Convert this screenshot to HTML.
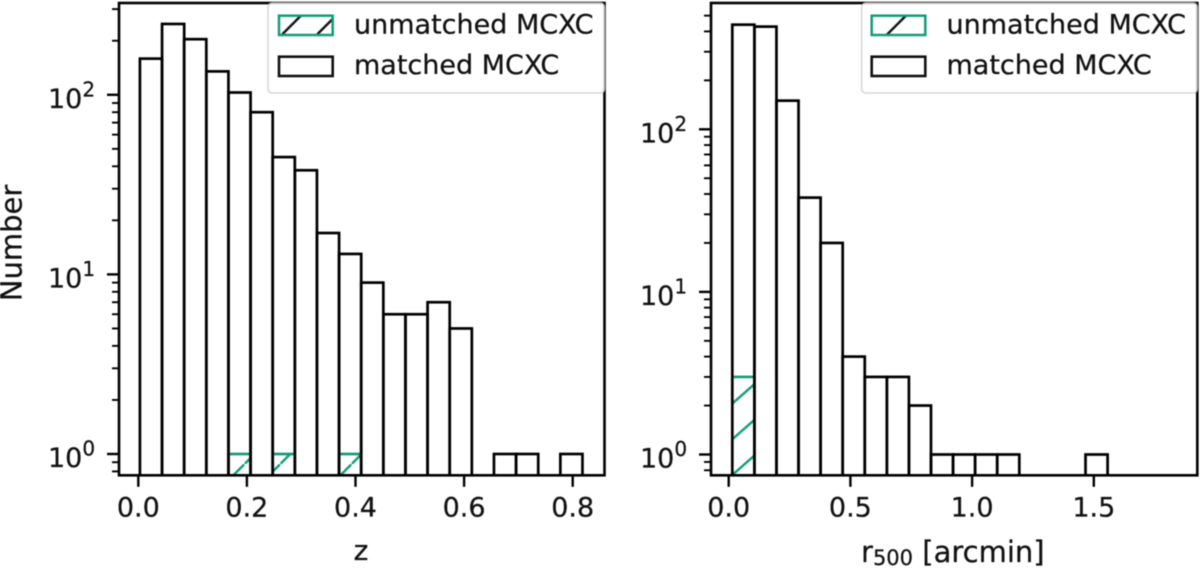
<!DOCTYPE html>
<html>
<head>
<meta charset="utf-8">
<title>MCXC histograms</title>
<style>
html,body{margin:0;padding:0;background:#fff;}
svg{display:block;filter:blur(0.65px);}
text{font-family:"DejaVu Sans","Liberation Sans",sans-serif;fill:#111;stroke:#111;stroke-width:0.25px;}
</style>
</head>
<body>
<svg id="fig" xmlns="http://www.w3.org/2000/svg" width="1200" height="571" viewBox="0 0 1200 571">
  <defs>
    <pattern id="hatch-left" patternUnits="userSpaceOnUse" width="35.7" height="35.7" patternTransform="translate(30.3 0)">
      <line x1="-4" y1="39.7" x2="39.7" y2="-4" stroke="#0f9d78" stroke-width="2.4"/>
    </pattern>
    <pattern id="hatch-right" patternUnits="userSpaceOnUse" width="40.57" height="35.7" patternTransform="translate(0 12.7)">
      <line x1="-4.54" y1="39.7" x2="45.11" y2="-4" stroke="#0f9d78" stroke-width="2.4"/>
    </pattern>
    <pattern id="legend-hatch-left" patternUnits="userSpaceOnUse" width="35" height="35" patternTransform="translate(1.6 0)">
      <line x1="-4" y1="39" x2="39" y2="-4" stroke="#111" stroke-width="2.4"/>
    </pattern>
    <pattern id="legend-hatch-right" patternUnits="userSpaceOnUse" width="70" height="70" patternTransform="translate(11.6 0)">
      <line x1="-4" y1="74" x2="74" y2="-4" stroke="#111" stroke-width="2.4"/>
    </pattern>
    <clipPath id="clip-left"><rect x="119" y="3" width="485.5" height="472.3"/></clipPath>
    <clipPath id="clip-right"><rect x="711" y="3" width="486.3" height="472.3"/></clipPath>
  </defs>
  <g id="panel-left"></g>
  <g id="panel-right"></g>

  <g>
    <rect x="268" y="3" width="336.5" height="90" rx="4" fill="#fff" fill-opacity="0.8" stroke="#ccc" stroke-opacity="0.8" stroke-width="1.5"/>
    <rect x="279" y="15.7" width="53.7" height="19.3" fill="url(#legend-hatch-left)" stroke="#0f9d78" stroke-width="2.5"/>
    <text x="354" y="33.5" font-size="27">unmatched MCXC</text>
    <rect x="279" y="56.7" width="53.7" height="19.3" fill="none" stroke="#111" stroke-width="2.6"/>
    <text x="354" y="74" font-size="27">matched MCXC</text>
  </g>
  <g>
    <rect x="861.7" y="3" width="335.6" height="90" rx="4" fill="#fff" fill-opacity="0.8" stroke="#ccc" stroke-opacity="0.8" stroke-width="1.5"/>
    <rect x="871.7" y="15.7" width="53.6" height="19.3" fill="url(#legend-hatch-right)" stroke="#0f9d78" stroke-width="2.5"/>
    <text x="946.5" y="33.5" font-size="27">unmatched MCXC</text>
    <rect x="871.7" y="56.7" width="53.6" height="19.3" fill="none" stroke="#111" stroke-width="2.6"/>
    <text x="946.5" y="74" font-size="27">matched MCXC</text>
  </g>

  <text transform="translate(21.5 243) rotate(-90)" text-anchor="middle" font-size="29">Number</text>
  <text x="361" y="560" text-anchor="middle" font-size="28">z</text>
  <text x="861" y="562" font-size="29">r<tspan font-size="21" dy="3">500</tspan><tspan dy="-3"> [arcmin]</tspan></text>
</svg>

<script>
// Redshift histogram
const zBinStart = 0.003;
const zBinWidth = 0.04075;
const zMatched = [159, 248, 204, 135, 103, 80, 45, 38, 17, 13, 9, 6, 6, 7, 5, 0, 1, 1, 0, 1, 0];
const zUnmatched = [0, 0, 0, 0, 1, 0, 1, 0, 0, 1, 0, 0, 0, 0, 0, 0, 0, 0, 0, 0, 0];
const zTicks = ["0.0", "0.2", "0.4", "0.6", "0.8"];

// r500 histogram
const rBinStart = 0.0148;
const rBinWidth = 0.0907;
const rMatched = [440, 428, 150, 38, 20, 4, 3, 3, 2, 1, 1, 1, 1, 0, 0, 0, 1, 0, 0, 0, 0];
const rUnmatched = [3, 0, 0, 0, 0, 0, 0, 0, 0, 0, 0, 0, 0, 0, 0, 0, 0, 0, 0, 0, 0];
const rTicks = ["0.0", "0.5", "1.0", "1.5"];

// Shared log axis
const decadeExponents = [0, 1, 2];
const minorValues = [0.8, 0.9, 2, 3, 4, 5, 6, 7, 8, 9, 20, 30, 40, 50, 60, 70, 80, 90, 200, 300, 400, 500, 600];

const NS = 'http://www.w3.org/2000/svg';
function mk(parent, tag, attrs, text) {
  const el = document.createElementNS(NS, tag);
  for (const k in attrs) el.setAttribute(k, attrs[k]);
  if (text !== undefined) el.textContent = text;
  parent.appendChild(el);
  return el;
}

function drawPanel(cfg) {
  const g = cfg.group;
  const xPos = v => cfg.x0 + cfg.xScale * v;
  const yPos = v => cfg.y0 - cfg.decade * Math.log10(v);
  const bottom = cfg.bottom;
  const barsG = mk(g, 'g', { 'clip-path': 'url(#' + cfg.clip + ')' });
  
  

  cfg.unmatched.forEach((c, i) => {
    if (c <= 0) return;
    const x1 = xPos(cfg.binStart + i * cfg.binWidth);
    const x2 = xPos(cfg.binStart + (i + 1) * cfg.binWidth);
    const r = mk(barsG, 'rect', { x: x1, y: yPos(c), width: x2 - x1, height: bottom - yPos(c), fill: 'url(#' + cfg.hatch + ')', stroke: '#0f9d78', 'stroke-width': 2.4 });
    
    
  });
  cfg.matched.forEach((c, i) => {
    if (c <= 0) return;
    const x1 = xPos(cfg.binStart + i * cfg.binWidth);
    const x2 = xPos(cfg.binStart + (i + 1) * cfg.binWidth);
    const r = mk(barsG, 'rect', { x: x1, y: yPos(c), width: x2 - x1, height: bottom - yPos(c) + 4, fill: 'none', stroke: '#000', 'stroke-width': 2.7 });
    
    
  });
  // The unmatched top edge sits over the matched outline in the reference.
  cfg.unmatched.forEach((c, i) => {
    if (c <= 0) return;
    const x1 = xPos(cfg.binStart + i * cfg.binWidth);
    const x2 = xPos(cfg.binStart + (i + 1) * cfg.binWidth);
    const t = mk(barsG, 'line', { x1: x1 + 1.4, x2: x2 - 1.4, y1: yPos(c), y2: yPos(c), stroke: '#0f9d78', 'stroke-width': 2.4 });
    
    
  });

  const frame = mk(g, 'rect', { x: cfg.left, y: cfg.top, width: cfg.right - cfg.left, height: bottom - cfg.top, fill: 'none', stroke: '#000', 'stroke-width': 2.6 });
  
  

  cfg.xTicks.forEach(label => {
    const px = xPos(parseFloat(label));
    const t = mk(g, 'line', { x1: px, x2: px, y1: bottom, y2: bottom + 11.5, stroke: '#000', 'stroke-width': 2.4 });
    
    
    const l = mk(g, 'text', { x: px, y: 516.5, 'text-anchor': 'middle', 'font-size': 27 }, label);
    
    
  });

  decadeExponents.forEach(e => {
    const py = yPos(Math.pow(10, e));
    const t = mk(g, 'line', { x1: cfg.left - 12, x2: cfg.left, y1: py, y2: py, stroke: '#000', 'stroke-width': 2.4 });
    
    
    const l = mk(g, 'text', { x: cfg.left - 71, y: py + 13, 'font-size': 27 }, '10');
    
    
    const s = mk(l, 'tspan', { dy: -11.5, 'font-size': 20 }, String(e));
    
    
  });

  minorValues.forEach(v => {
    const py = yPos(v);
    if (py < cfg.top || py > bottom) return;
    const t = mk(g, 'line', { x1: cfg.left - 7, x2: cfg.left, y1: py, y2: py, stroke: '#000', 'stroke-width': 1.9 });
    
    
  });
}

drawPanel({
  group: document.getElementById('panel-left'),
  clip: 'clip-left', hatch: 'hatch-left',
  left: 119, right: 604.5, top: 3, bottom: 475.3,
  x0: 138.3, xScale: 543, y0: 454, decade: 179.6,
  binStart: zBinStart, binWidth: zBinWidth,
  matched: zMatched, unmatched: zUnmatched, xTicks: zTicks
});
drawPanel({
  group: document.getElementById('panel-right'),
  clip: 'clip-right', hatch: 'hatch-right',
  left: 711, right: 1197.3, top: 3, bottom: 475.3,
  x0: 728.7, xScale: 243.4, y0: 454.5, decade: 162.6,
  binStart: rBinStart, binWidth: rBinWidth,
  matched: rMatched, unmatched: rUnmatched, xTicks: rTicks
});
</script>
</body>
</html>
